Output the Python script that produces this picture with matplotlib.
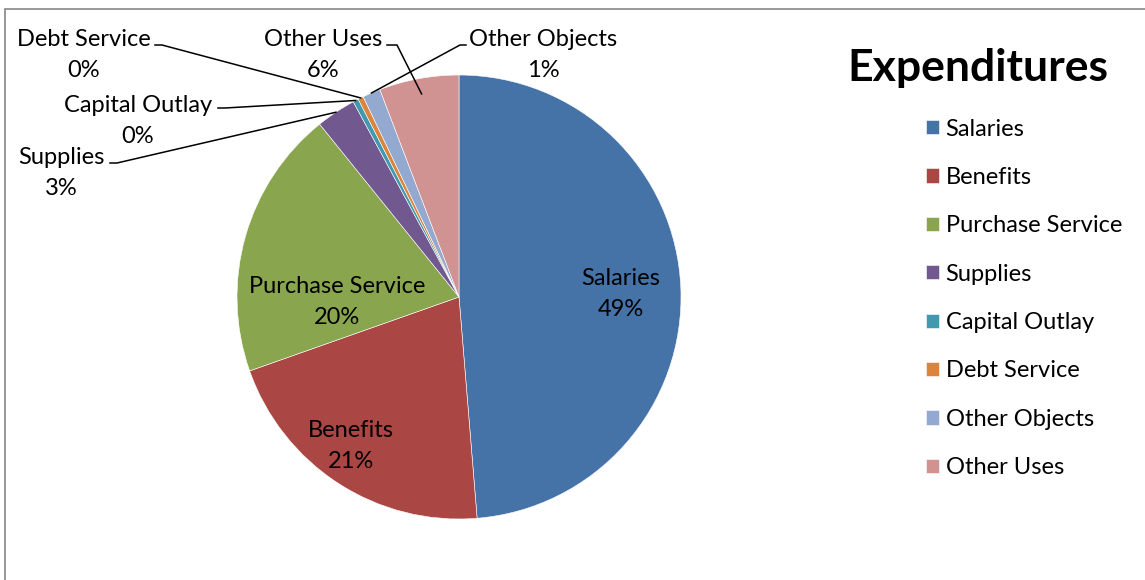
import numpy as np
import matplotlib.pyplot as plt
from matplotlib.patches import Rectangle

plt.rcParams['font.family'] = ['Lato', 'DejaVu Sans']

categories = ['Salaries', 'Benefits', 'Purchase Service', 'Supplies',
              'Capital Outlay', 'Debt Service', 'Other Objects', 'Other Uses']
values = [48.7, 20.9, 19.6, 2.9, 0.4, 0.4, 1.3, 5.8]
colors = ['#4572A7', '#AA4643', '#89A54E', '#71588F',
          '#4198AF', '#DB843D', '#93A9CF', '#D19392']

W, H = 1145, 580
fig = plt.figure(figsize=(W / 100, H / 100), dpi=100)
ax = fig.add_axes([0, 0, 1, 1])
ax.set_xlim(0, W)
ax.set_ylim(0, H)
ax.set_aspect('equal')
ax.axis('off')

# chart border (only left and top visible)
ax.add_patch(Rectangle((5, -10), W + 20, H - 9 + 10, fill=False,
                       edgecolor='#868686', linewidth=1.2))

cx, cy, r = 459, H - 297, 222
wedges, _ = ax.pie(values, colors=colors, startangle=90, counterclock=False,
                   center=(cx, cy), radius=r,
                   wedgeprops=dict(edgecolor='white', linewidth=0.4))
ax.set_xlim(0, W)
ax.set_ylim(0, H)

pct = [f'{round(v):.0f}%' for v in values]
fs = 17
ls = 1.57

# labels inside the pie
inside = {0: (621, 294), 1: (351, 446), 2: (337, 302)}
for i, (px, py) in inside.items():
    ax.text(px, H - py, f'{categories[i]}\n{pct[i]}', ha='center', va='center',
            fontsize=fs, linespacing=ls)

# outside labels with leader lines: text centre, elbow point
outside = {
    5: ((84, 55), (155, 45), (162, 45)),
    3: ((61, 173), (110, 163), (117, 163)),
    4: ((138, 121), (218, 108), (225, 108)),
    7: ((323, 55), (387, 45), (397, 45)),
    6: ((543, 55), (466, 45), (460, 45)),
}
for i, ((tx, ty), (ax1, ay1), (ax2, ay2)) in outside.items():
    ax.text(tx, H - ty, f'{categories[i]}\n{pct[i]}', ha='center', va='center',
            fontsize=fs, linespacing=ls)
    w = wedges[i]
    mid = np.deg2rad((w.theta1 + w.theta2) / 2)
    rr = r * (0.93 if i == 7 else 1.0)
    ex, ey = cx + rr * np.cos(mid), cy + rr * np.sin(mid)
    ax.plot([ax1, ax2, ex], [H - ay1, H - ay2, ey], color='black', lw=1.1)

ax.text(978, H - 68, 'Expenditures', ha='center', va='center',
        fontsize=32, fontweight='bold')

leg = ax.legend(wedges, categories, loc='upper left',
                bbox_to_anchor=(909 / W, 1 - 102 / H), frameon=False,
                fontsize=fs, handlelength=0.55, handleheight=0.55,
                handletextpad=0.3, labelspacing=1.16, borderpad=0.2)

fig.savefig('out.png', dpi=100)
